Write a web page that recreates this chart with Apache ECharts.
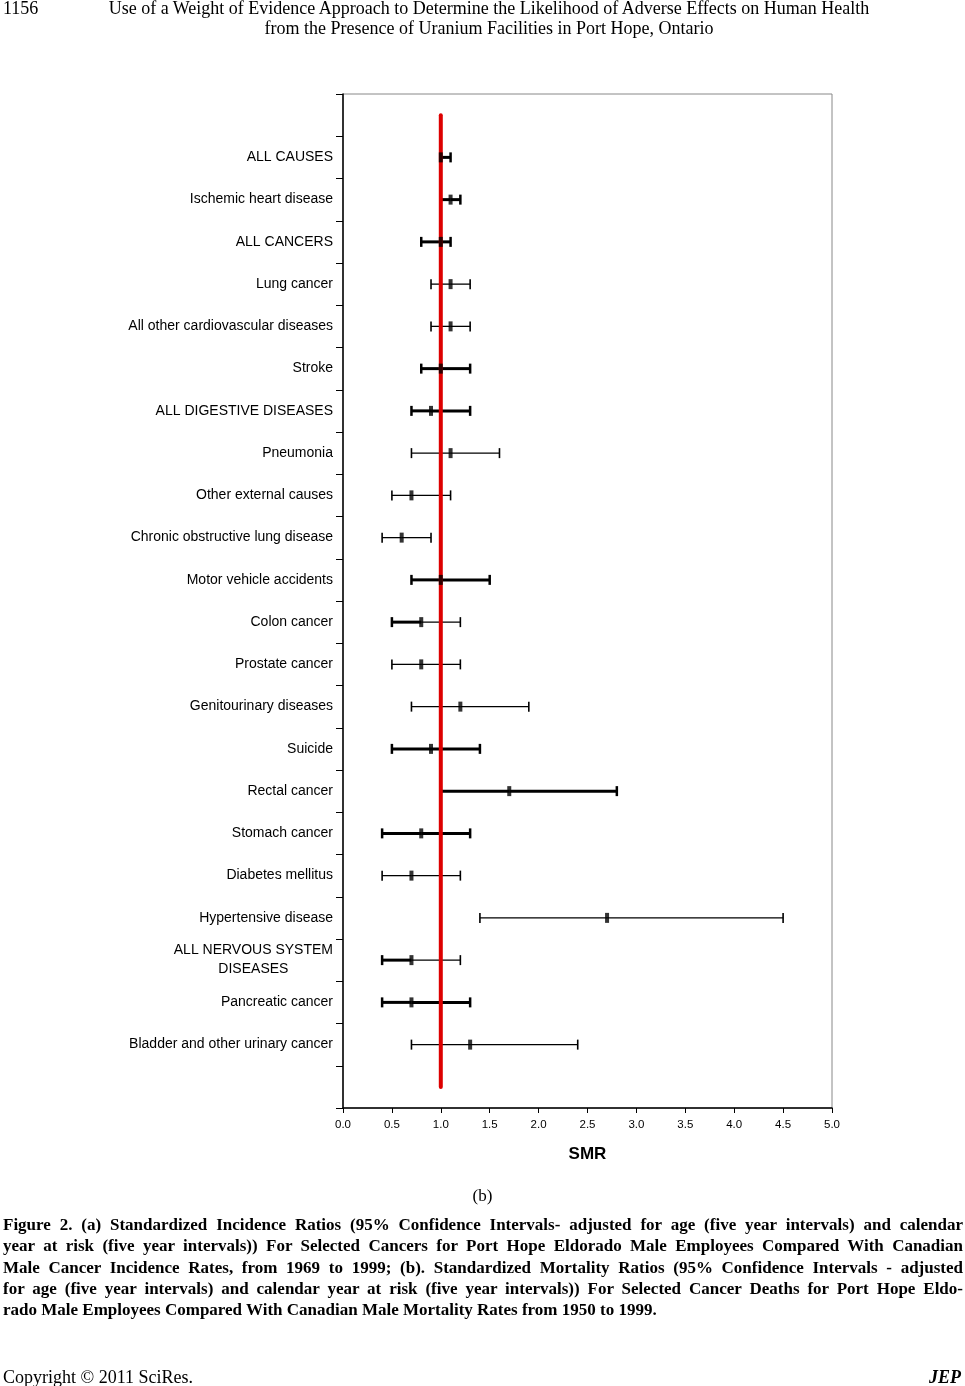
<!DOCTYPE html>
<html lang="en">
<head>
<meta charset="UTF-8">
<title>SMR by cause of death</title>
<style>
  body { margin: 0; background: #fff; }
  .serif { font-family: "Liberation Serif", "Times New Roman", serif; color: #000; position: absolute; }
  #caption div { text-align: justify; text-align-last: justify; white-space: nowrap; height: 21.3px; }
  #caption div.last { text-align-last: left; }
</style>
</head>
<body>
<div id="main" style="position:absolute; left:0; top:0; width:965px; height:1386px;"></div>

<div class="serif" style="left:3px; top:-2px; font-size:18px; line-height:20px;">1156</div>
<div class="serif" style="left:0; width:978px; top:-2px; font-size:18px; line-height:20px; text-align:center;">
  Use of a Weight of Evidence Approach to Determine the Likelihood of Adverse Effects on Human Health<br>
  from the Presence of Uranium Facilities in Port Hope, Ontario
</div>
<div class="serif" style="left:0; width:965px; top:1186px; font-size:17px; text-align:center;">(b)</div>
<div id="caption" class="serif" style="left:3px; width:960px; top:1214px; font-size:17px; font-weight:bold; line-height:21.3px;">
  <div>Figure 2. (a) Standardized Incidence Ratios (95% Confidence Intervals- adjusted for age (five year intervals) and calendar</div>
  <div>year at risk (five year intervals)) For Selected Cancers for Port Hope Eldorado Male Employees Compared With Canadian</div>
  <div>Male Cancer Incidence Rates, from 1969 to 1999; (b). Standardized Mortality Ratios (95% Confidence Intervals - adjusted</div>
  <div>for age (five year intervals) and calendar year at risk (five year intervals)) For Selected Cancer Deaths for Port Hope Eldo-</div>
  <div class="last">rado Male Employees Compared With Canadian Male Mortality Rates from 1950 to 1999.</div>
</div>
<div class="serif" style="left:3px; top:1367px; font-size:18px; line-height:20px;">Copyright © 2011 SciRes.</div>
<div class="serif" style="right:4px; top:1367px; font-size:18px; line-height:20px; font-weight:bold; font-style:italic;">JEP</div>

<script src="https://cdn.jsdelivr.net/npm/echarts@6/dist/echarts.min.js"></script>
<script type="text/javascript">
// causes of death, top to bottom
var categories = [
  'ALL CAUSES', 'Ischemic heart disease', 'ALL CANCERS', 'Lung cancer',
  'All other cardiovascular diseases', 'Stroke', 'ALL DIGESTIVE DISEASES', 'Pneumonia',
  'Other external causes', 'Chronic obstructive lung disease', 'Motor vehicle accidents',
  'Colon cancer', 'Prostate cancer', 'Genitourinary diseases', 'Suicide', 'Rectal cancer',
  'Stomach cancer', 'Diabetes mellitus', 'Hypertensive disease',
  'ALL NERVOUS SYSTEM\nDISEASES', 'Pancreatic cancer', 'Bladder and other urinary cancer'
];
var smr   = [1.0, 1.1, 1.0, 1.1, 1.1, 1.0, 0.9, 1.1, 0.7, 0.6, 1.0, 0.8, 0.8, 1.2, 0.9, 1.7, 0.8, 0.7, 2.7, 0.7, 0.7, 1.3];
var lower = [1.0, 1.0, 0.8, 0.9, 0.9, 0.8, 0.7, 0.7, 0.5, 0.4, 0.7, 0.5, 0.5, 0.7, 0.5, 1.0, 0.4, 0.4, 1.4, 0.4, 0.4, 0.7];
var upper = [1.1, 1.2, 1.1, 1.3, 1.3, 1.3, 1.3, 1.6, 1.1, 0.9, 1.5, 1.2, 1.2, 1.9, 1.4, 2.8, 1.3, 1.2, 4.5, 1.2, 1.3, 2.4];
var xTicks = { min: 0, max: 5, step: 0.5 };

// line weight of the left / right half of each bar (B = bold, t = thin), as drawn in the original
var halves = ['BB', 'BB', 'BB', 'tt', 'tt', 'BB', 'BB', 'tt', 'tt', 'tt', 'BB',
              'Bt', 'tt', 'tt', 'BB', 'BB', 'BB', 'tt', 'tt', 'Bt', 'BB', 'tt'];

// empty slot above and below the list
var yData = [''].concat(categories, ['']);

var barData = categories.map(function (c, i) {
  return [lower[i], smr[i], upper[i], i + 1, i];
});
var pointData = categories.map(function (c, i) {
  return [smr[i], i + 1];
});

var myChart = echarts.init(document.getElementById('main'));

function renderBar(params, api) {
  var row = api.value(4);
  var y = api.value(3);
  var lo = api.coord([api.value(0), y]);
  var mid = api.coord([api.value(1), y]);
  var hi = api.coord([api.value(2), y]);
  var wl = halves[row][0] === 'B' ? 3 : 1.3;
  var wr = halves[row][1] === 'B' ? 3 : 1.3;
  var capL = halves[row][0] === 'B' ? 2.5 : 1.6;
  var capR = halves[row][1] === 'B' ? 2.5 : 1.6;
  var h = 5;
  return {
    type: 'group',
    children: [
      { type: 'line', shape: { x1: lo[0], y1: lo[1], x2: mid[0], y2: mid[1] }, style: { stroke: '#000', lineWidth: wl } },
      { type: 'line', shape: { x1: mid[0], y1: mid[1], x2: hi[0], y2: hi[1] }, style: { stroke: '#000', lineWidth: wr } },
      { type: 'line', shape: { x1: lo[0], y1: lo[1] - h, x2: lo[0], y2: lo[1] + h }, style: { stroke: '#000', lineWidth: capL } },
      { type: 'line', shape: { x1: hi[0], y1: hi[1] - h, x2: hi[0], y2: hi[1] + h }, style: { stroke: '#000', lineWidth: capR } }
    ]
  };
}

myChart.setOption({
  backgroundColor: 'transparent',
  animation: false,
  grid: {
    left: 343, right: 133, top: 94, bottom: 278,
    show: true, borderColor: '#888', borderWidth: 1
  },
  xAxis: {
    type: 'value',
    min: xTicks.min, max: xTicks.max, interval: xTicks.step,
    splitLine: { show: false },
    axisLine: { show: true, lineStyle: { color: '#000', width: 1.5 } },
    axisTick: { show: true, length: 5, lineStyle: { color: '#000' } },
    axisLabel: {
      margin: 11, fontSize: 11.5, color: '#000', fontFamily: 'Liberation Sans, Arial',
      formatter: function (v) { return v.toFixed(1); }
    },
    name: 'SMR', nameLocation: 'middle', nameGap: 38,
    nameTextStyle: { fontSize: 17, fontWeight: 'bold', color: '#000', fontFamily: 'Liberation Sans, Arial' }
  },
  yAxis: {
    type: 'category',
    data: yData,
    inverse: true,
    boundaryGap: true,
    axisLine: { show: true, lineStyle: { color: '#000', width: 1.5 } },
    axisTick: { show: true, length: 7, interval: 0, lineStyle: { color: '#000' } },
    axisLabel: {
      interval: 0, margin: 10, fontSize: 14, color: '#000', fontFamily: 'Liberation Sans, Arial',
      lineHeight: 19,
      formatter: function (v) {
        if (v.indexOf('\n') < 0) return v;
        return v.split('\n').map(function (s) { return '{c|' + s + '}'; }).join('\n');
      },
      rich: {
        c: { align: 'center', fontSize: 14, color: '#000', fontFamily: 'Liberation Sans, Arial', lineHeight: 19 }
      }
    },
    splitLine: { show: false }
  },
  series: [
    {
      type: 'custom',
      renderItem: renderBar,
      encode: { x: [0, 1, 2], y: 3 },
      data: barData,
      z: 2
    },
    {
      type: 'line',
      data: [[1, 0], [1, yData.length - 1]],
      symbol: 'none',
      lineStyle: { color: '#dd0000', width: 4, cap: 'round' },
      z: 3
    },
    {
      type: 'scatter',
      data: pointData,
      symbol: 'rect',
      symbolSize: [4, 10],
      itemStyle: { color: '#000' },
      z: 4
    }
  ]
});
</script>
</body>
</html>
